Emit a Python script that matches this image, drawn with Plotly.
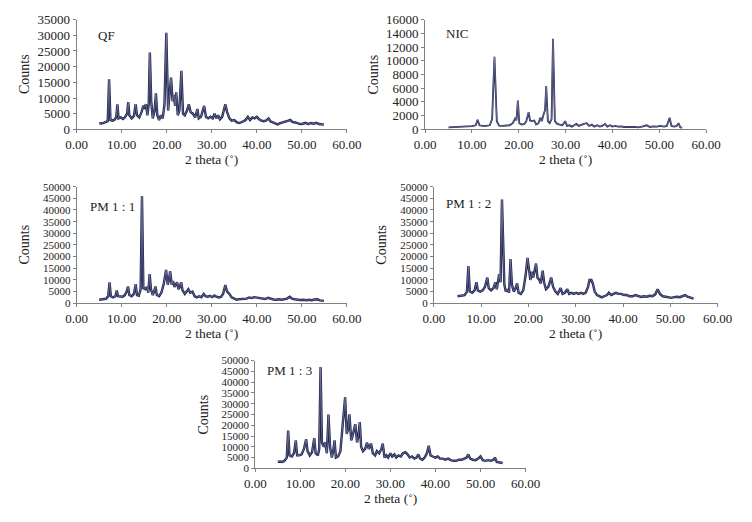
import plotly.graph_objects as go

W, H = 752, 522

# ---------------- data ----------------
qf_x = [5.0, 5.5, 6.0, 6.5, 6.9, 7.2, 7.5, 8.0, 8.5, 8.8, 9.05, 9.3, 9.8, 10.3, 10.8, 11.2, 11.45, 11.7,
        12.2, 12.7, 13.1, 13.4, 13.9, 14.4, 14.8, 15.1, 15.4, 15.7, 16.0, 16.25, 16.55, 16.9, 17.3, 17.6,
        17.9, 18.3, 18.7, 19.1, 19.5, 19.9, 20.3, 20.6, 20.95, 21.3, 21.6, 21.85, 22.1, 22.45, 22.8, 23.25,
        23.6, 24.0, 24.5, 24.9, 25.3, 25.8, 26.3, 26.8, 27.1, 27.6, 28.3, 28.7, 29.2, 29.7, 30.2, 30.6,
        31.0, 31.4, 31.8, 32.3, 32.7, 33.0, 33.4, 33.9, 34.4, 35.0, 35.5, 36.0, 36.5, 37.0, 37.5, 38.0,
        38.5, 39.0, 39.5, 40.0, 40.5, 41.0, 41.5, 42.0, 42.6, 43.0, 43.5, 44.0, 44.6, 45.2, 45.8, 46.4,
        47.0, 47.4, 47.9, 48.5, 49.0, 49.6, 50.2, 50.8, 51.4, 52.0, 52.6, 53.2, 53.8, 54.4, 54.9]
qf_y = [2000, 1900, 2100, 2300, 2600, 16000, 3000, 2800, 3200, 4000, 8000, 3500, 3800, 3300, 4000, 5000, 8700, 4500,
        3500, 4200, 8000, 4500, 3800, 5500, 7500, 7000, 8000, 4500, 8000, 24500, 9000, 3500, 6000, 11500,
        4500, 3000, 4500, 3500, 8000, 30800, 6000, 11000, 16500, 9000, 11000, 7500, 11800, 4500, 6000, 18700,
        5000, 4500, 6000, 8000, 5500, 5000, 3800, 6500, 3500, 4000, 7500, 4000, 3500, 4000, 3500, 5000,
        3500, 4500, 3200, 4000, 6000, 8000, 5500, 3500, 2800, 3000, 2300, 2000, 2200, 2600, 3000, 4000,
        3000, 3800, 3500, 4000, 3200, 2800, 2600, 2800, 3500, 2600, 2300, 2000, 1600, 2000, 2200, 2400,
        2800, 3000, 2400, 2200, 1900, 1700, 1800, 2100, 1700, 2000, 1800, 2100, 1700, 1600, 1500]

nic_x = [5.0, 6.0, 7.0, 8.0, 9.0, 10.0, 10.8, 11.2, 11.6, 12.2, 13.0, 13.8, 14.3, 14.8, 15.3, 15.8, 16.5, 17.3,
         18.0, 18.7, 19.3, 19.5, 19.8, 20.1, 20.6, 21.2, 21.6, 22.1, 22.4, 22.8, 23.3, 23.7, 24.2, 24.6,
         24.9, 25.3, 25.6, 25.85, 26.2, 26.6, 27.0, 27.3, 27.7, 28.2, 28.7, 29.3, 29.9, 30.3, 30.8, 31.3,
         31.8, 32.3, 32.8, 33.4, 33.9, 34.5, 35.0, 35.6, 36.1, 36.7, 37.3, 37.8, 38.4, 38.9, 39.5, 40.0,
         40.6, 41.2, 41.8, 42.5, 43.2, 44.0, 44.8, 45.5, 46.3, 47.3, 48.0, 48.8, 49.5, 50.2, 51.0, 51.6,
         52.2, 52.6, 53.2, 53.7, 54.1, 54.5, 54.9]
nic_y = [300, 330, 370, 400, 430, 470, 600, 1400, 600, 500, 520, 600, 1500, 10600, 1200, 550, 500, 500,
         600, 900, 1700, 1300, 4200, 900, 700, 800, 1200, 2500, 1300, 1200, 1300, 700, 900, 1700,
         1200, 2200, 2800, 6300, 1200, 900, 1500, 13200, 1200, 800, 700, 600, 1200, 500, 600, 400,
         600, 800, 500, 700, 800, 900, 500, 700, 400, 600, 400, 500, 800, 400, 600, 400,
         500, 400, 450, 350, 400, 350, 350, 300, 400, 600, 350, 450, 400, 500, 400, 500,
         1700, 500, 400, 500, 900, 300, 250]

pm11_x = [5.0, 5.5, 6.0, 6.5, 7.0, 7.3, 7.6, 8.1, 8.6, 8.9, 9.2, 9.7, 10.2, 10.7, 11.1, 11.4, 11.7, 12.2,
          12.7, 13.1, 13.4, 13.8, 14.2, 14.5, 14.8, 15.2, 15.6, 15.9, 16.2, 16.5, 16.9, 17.2, 17.5, 17.8,
          18.3, 18.8, 19.3, 19.85, 20.2, 20.5, 20.75, 21.1, 21.4, 21.7, 22.0, 22.3, 22.6, 22.9, 23.2, 23.5,
          24.0, 24.4, 24.8, 25.2, 25.7, 26.2, 26.7, 27.2, 27.7, 28.2, 28.6, 29.1, 29.6, 30.1, 30.6, 31.0,
          31.5, 32.0, 32.5, 33.0, 33.4, 33.9, 34.4, 35.0, 35.5, 36.0, 36.6, 37.2, 37.7, 38.3, 38.8, 39.4,
          40.0, 40.6, 41.2, 41.8, 42.5, 43.1, 43.7, 44.3, 44.9, 45.5, 46.1, 46.7, 47.3, 47.8, 48.4, 49.0,
          49.6, 50.3, 51.0, 51.6, 52.2, 52.8, 53.4, 54.0, 54.5, 54.9]
pm11_y = [1500, 1600, 1700, 1900, 3000, 9000, 3000, 2500, 3000, 5500, 3000, 3000, 2800, 3500, 5000, 7200, 3500, 3000,
          4000, 8200, 3500, 3200, 6000, 46000, 6500, 6000, 7000, 4500, 12500, 6000, 3500, 5000, 7200, 3500,
          3000, 4500, 8000, 14300, 8000, 10000, 13800, 8000, 9500, 7000, 8000, 9000, 6000, 7000, 9000, 5500,
          4000, 5000, 6000, 4500, 5000, 3000, 2500, 3000, 2600, 4000, 3000, 2800, 3200, 2600, 3300, 2800,
          2500, 2700, 4000, 7800, 5000, 4000, 2500, 2000, 1500, 1700, 1800, 2200, 2000, 2500, 2200, 2600,
          2400, 2100, 1900, 1800, 2300, 1800, 1600, 1500, 1700, 1500, 1700, 2000, 2800, 2000, 1700, 1500,
          1400, 1500, 1300, 1500, 1300, 1600, 1700, 1200, 1100, 1000]

pm12_x = [5.0, 5.5, 6.0, 6.5, 7.0, 7.3, 7.6, 8.1, 8.6, 9.0, 9.3, 9.8, 10.3, 10.8, 11.3, 11.6, 12.1, 12.6,
          13.0, 13.3, 13.8, 14.1, 14.4, 14.6, 14.9, 15.2, 15.5, 15.9, 16.2, 16.5, 16.9, 17.2, 17.6, 17.9,
          18.4, 18.9, 19.4, 19.8, 20.1, 20.4, 20.7, 21.0, 21.3, 21.6, 21.9, 22.3, 22.6, 23.0, 23.3, 23.7,
          24.2, 24.8, 25.2, 25.7, 26.2, 26.8, 27.2, 27.7, 28.2, 28.6, 29.1, 29.6, 30.1, 30.6, 31.1, 31.6,
          32.1, 32.6, 32.9, 33.3, 33.6, 34.0, 34.5, 35.0, 35.5, 36.0, 36.6, 37.0, 37.5, 38.0, 38.5, 39.0,
          39.6, 40.2, 40.8, 41.4, 42.0, 42.6, 43.2, 43.8, 44.4, 45.0, 45.6, 46.2, 46.8, 47.3, 47.8, 48.4,
          49.0, 49.6, 50.2, 50.8, 51.4, 52.0, 52.6, 53.1, 53.6, 54.1, 54.6, 54.9]
pm12_y = [3000, 3200, 3100, 3500, 5000, 16000, 5000, 4500, 5500, 9000, 5500, 5000, 5500, 7000, 11000, 6500, 5500, 6500,
          9000, 6000, 12500, 9000, 44500, 30000, 8000, 5000, 6000, 4500, 19000, 8000, 5000, 6000, 8500, 4500,
          4000, 5500, 12000, 19500, 15000, 10000, 13500, 11000, 14000, 17000, 11000, 10000, 8500, 14000, 9000, 6000,
          7000, 11000, 7000, 5000, 4000, 6500, 4000, 4500, 6000, 4000, 4500, 4000, 4500, 4000, 4500, 4000,
          4500, 7000, 10000, 10000, 8500, 5000, 3500, 3000, 2500, 3000, 3500, 4500, 3500, 4000, 4500, 4000,
          4000, 3500, 3500, 3000, 3000, 3500, 3000, 2700, 3000, 2800, 3200, 3000, 3800, 6000, 4000, 3000,
          2800, 2500, 2300, 2600, 2800, 2600, 3000, 3500, 2800, 2400, 2200, 2000]

pm13_x = [5.0, 5.5, 6.0, 6.5, 7.0, 7.3, 7.6, 8.1, 8.6, 9.0, 9.3, 9.8, 10.3, 10.8, 11.3, 11.6, 12.1, 12.6,
          13.1, 13.4, 13.9, 14.2, 14.5, 14.8, 15.2, 15.5, 15.9, 16.25, 16.6, 17.0, 17.3, 17.6, 17.9, 18.4,
          18.9, 19.4, 19.95, 20.3, 20.6, 20.9, 21.3, 21.6, 22.2, 22.6, 22.9, 23.2, 23.5, 23.9, 24.4, 24.8,
          25.2, 25.7, 26.1, 26.6, 27.0, 27.5, 28.0, 28.3, 28.7, 29.1, 29.5, 30.0, 30.4, 30.9, 31.3, 31.8,
          32.3, 32.8, 33.3, 33.8, 34.3, 34.8, 35.3, 35.8, 36.2, 36.6, 37.1, 37.6, 38.1, 38.5, 38.9, 39.4,
          40.0, 40.5, 41.0, 41.6, 42.2, 42.8, 43.4, 44.0, 44.6, 45.2, 45.8, 46.4, 46.9, 47.3, 47.7, 48.3,
          48.9, 49.5, 50.0, 50.5, 51.1, 51.7, 52.3, 52.9, 53.2, 53.6, 54.2, 54.9]
pm13_y = [3000, 3200, 3000, 3500, 5000, 17500, 6000, 5500, 7000, 13000, 6000, 6000, 6500, 9000, 13500, 8000, 6000, 7500,
          14000, 7000, 6000, 9000, 47000, 12000, 10000, 12000, 7000, 25000, 10000, 5000, 8000, 13000, 5000, 5500,
          8000, 22000, 33000, 16000, 18000, 25000, 13000, 15000, 20500, 12000, 15000, 21500, 10000, 8000, 9000, 12000,
          9000, 11500, 7000, 6000, 8000, 7000, 9000, 11500, 5000, 6000, 5000, 7000, 5500, 6500, 5000, 6000,
          5500, 7000, 7500, 6500, 5000, 5500, 4500, 5000, 6500, 4500, 4000, 5000, 7000, 10500, 6000, 5500,
          5000, 5500, 4500, 4500, 4000, 4500, 3800, 3500, 3500, 4000, 4000, 4500, 5000, 6500, 4500, 4000,
          3800, 4500, 5500, 3800, 3500, 3800, 3500, 4000, 5000, 3000, 2800, 2500]

labels = ["QF", "NIC", "PM 1 : 1", "PM 1 : 2", "PM 1 : 3"]
series = [(qf_x, qf_y), (nic_x, nic_y), (pm11_x, pm11_y), (pm12_x, pm12_y), (pm13_x, pm13_y)]
y_max = [35000, 16000, 50000, 50000, 50000]
y_step = [5000, 2000, 5000, 5000, 5000]
x_ticks = [0, 10, 20, 30, 40, 50, 60]

# ---------------- layout (pixel boxes of each panel) ----------------
boxes = [  # left, right, top, bottom in px
    (68, 348, 13, 126),
    (429, 720, 13, 126),
    (68, 348, 185, 305),
    (438, 732, 185, 305),
    (253, 533, 364, 475),
]
label_pos = [(88, 29), (449, 27), (80, 205), (448, 202), (263, 374)]
ytick_size = [13, 13, 11, 11, 11]
line_w = [2.4, 1.8, 2.4, 2.4, 2.4]

def px(xp):
    return xp / W

def py(yp):
    return 1 - yp / H

FONT = "Liberation Serif"
fig = go.Figure()
layout = dict(
    width=W, height=H, margin=dict(l=0, r=0, t=0, b=0),
    paper_bgcolor="white", plot_bgcolor="white", showlegend=False,
    font=dict(family=FONT, size=13, color="#222"),
    annotations=[],
)

for i, ((xs, ys), box) in enumerate(zip(series, boxes)):
    n = "" if i == 0 else str(i + 1)
    l, r, t, b = box
    fig.add_trace(go.Scatter(x=xs, y=ys, mode="lines", xaxis="x" + n, yaxis="y" + n,
                             line=dict(color="#1d2150", width=line_w[i]), hoverinfo="skip"))
    fig.add_trace(go.Scatter(x=xs, y=ys, mode="lines", xaxis="x" + n, yaxis="y" + n,
                             line=dict(color="#8e93ad", width=0.6), hoverinfo="skip"))
    yvals = list(range(0, y_max[i] + 1, y_step[i]))
    layout["xaxis" + n] = dict(
        domain=[px(l), px(r)], anchor="y" + n, range=[0, 60],
        tickvals=x_ticks, ticktext=[f"{v:.2f}" for v in x_ticks],
        showgrid=False, zeroline=False, showline=True, linecolor="#808080", linewidth=1,
        ticks="outside", ticklen=3, tickcolor="#808080",
        tickfont=dict(family=FONT, size=13, color="#222"),
    )
    layout["yaxis" + n] = dict(
        domain=[py(b), py(t)], anchor="x" + n, range=[0, y_max[i]],
        tickvals=yvals, ticktext=[str(v) for v in yvals],
        showgrid=False, zeroline=False, showline=True, linecolor="#808080", linewidth=1,
        ticks="outside", ticklen=3, tickcolor="#808080",
        tickfont=dict(family=FONT, size=ytick_size[i], color="#222"),
    )
    # axis titles
    layout["annotations"].append(dict(
        text="2 theta (˚)", xref="paper", yref="paper", x=px((l + r) / 2), y=py(b + 31),
        showarrow=False, font=dict(family=FONT, size=13.5, color="#222"),
        xanchor="center", yanchor="middle"))
    layout["annotations"].append(dict(
        text="Counts", xref="paper", yref="paper", x=px(l - 54), y=py((t + b) / 2),
        showarrow=False, textangle=-90, font=dict(family=FONT, size=14, color="#222"),
        xanchor="center", yanchor="middle"))
    lx, ly = label_pos[i]
    layout["annotations"].append(dict(
        text=labels[i], xref="paper", yref="paper", x=px(lx), y=py(ly),
        showarrow=False, font=dict(family=FONT, size=13, color="#222"),
        xanchor="left", yanchor="middle"))

fig.update_layout(**layout)
fig.write_html("out.html", config={"displayModeBar": False},
               post_script="document.body.style.margin='0';")
